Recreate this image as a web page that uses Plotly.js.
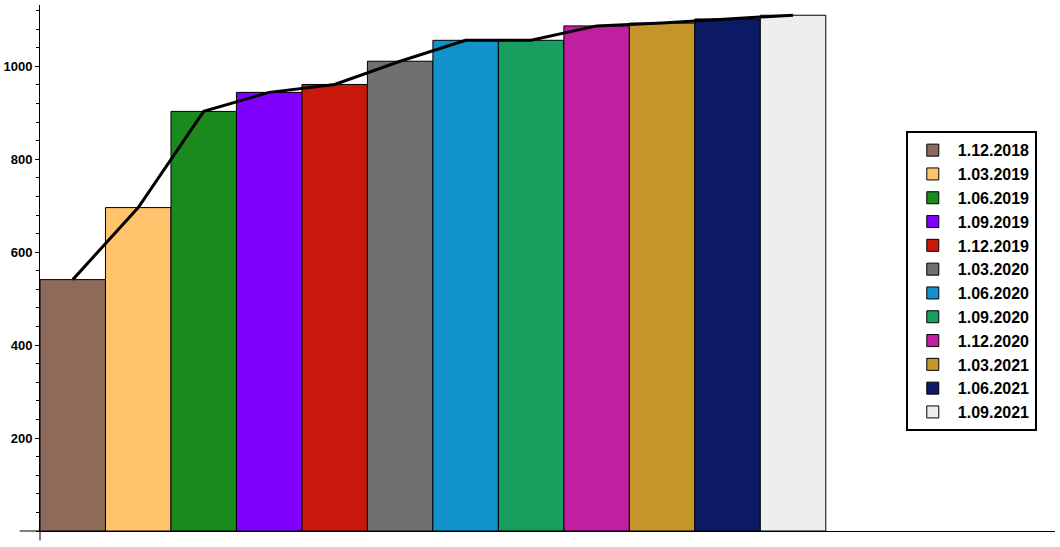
<!DOCTYPE html>
<html>
<head>
<meta charset="utf-8">
<script src="https://cdn.plot.ly/plotly-3.0.1.min.js"></script>
<style>html,body{margin:0;padding:0;background:#fff}#chart{width:1060px;height:547px}</style>
</head>
<body>
<div id="chart"></div>
<script>
const categories = ["1.12.2018","1.03.2019","1.06.2019","1.09.2019","1.12.2019","1.03.2020","1.06.2020","1.09.2020","1.12.2020","1.03.2021","1.06.2021","1.09.2021"];
const values = [541, 696, 903, 944, 961, 1011, 1056, 1056, 1087, 1093, 1102, 1110];
const colors = ["#8E6A5B","#FFC46B","#1A8A1F","#8000FF","#C8170B","#707070","#1192CB","#189E5E","#C020A0","#C4962A","#0B1A63","#EEEEEE"];
const yTicks = [200, 400, 600, 800, 1000];

const xpos = categories.map((c, i) => i + 0.5);
const traces = categories.map((c, i) => ({
  type: 'bar',
  x: [xpos[i]],
  y: [values[i]],
  width: 1,
  name: c,
  marker: {color: colors[i], line: {color: '#000', width: 1}},
  hoverinfo: 'name+y'
}));
traces.push({
  type: 'scatter',
  mode: 'lines',
  x: xpos,
  y: values,
  line: {color: '#000', width: 3},
  showlegend: false,
  hoverinfo: 'skip'
});

const layout = {
  width: 1060, height: 547,
  margin: {l: 40, r: 5, t: 5, b: 16, pad: 0},
  paper_bgcolor: '#fff', plot_bgcolor: '#fff',
  barmode: 'overlay',
  showlegend: true,
  font: {family: '"Liberation Sans", Arial, sans-serif', color: '#000'},
  xaxis: {
    range: [0, 15.5], showgrid: false, zeroline: false, showticklabels: false,
    ticks: '', showline: true, linecolor: '#000', linewidth: 1, fixedrange: true
  },
  yaxis: {
    range: [0, 1132], showgrid: false, zeroline: false,
    tickmode: 'array', tickvals: yTicks, ticktext: yTicks.map(String),
    ticks: 'outside', ticklen: 4, tickwidth: 1, tickcolor: '#000',
    minor: {dtick: 40, tick0: 0, ticks: 'outside', ticklen: 3, tickcolor: '#000', showgrid: false},
    showline: true, linecolor: '#000', linewidth: 1,
    tickfont: {family: '"Liberation Sans", Arial, sans-serif', size: 13, color: '#000', weight: 'bold'},
    fixedrange: true
  },
  legend: {
    x: 0.853, xanchor: 'left', y: 0.76, yanchor: 'top',
    bordercolor: '#000', borderwidth: 2, bgcolor: '#fff',
    font: {size: 16, color: '#000', weight: 'bold'},
    itemwidth: 40,
    traceorder: 'normal'
  },
  shapes: [
    {type: 'line', xref: 'paper', yref: 'paper', x0: -0.02, x1: 0, y0: 0, y1: 0, line: {color: '#000', width: 1}},
    {type: 'line', xref: 'paper', yref: 'paper', x0: 0, x1: 0, y0: 0, y1: -0.018, line: {color: '#000', width: 1}}
  ]
};

Plotly.newPlot('chart', traces, layout, {displayModeBar: false, staticPlot: true});
</script>
</body>
</html>
